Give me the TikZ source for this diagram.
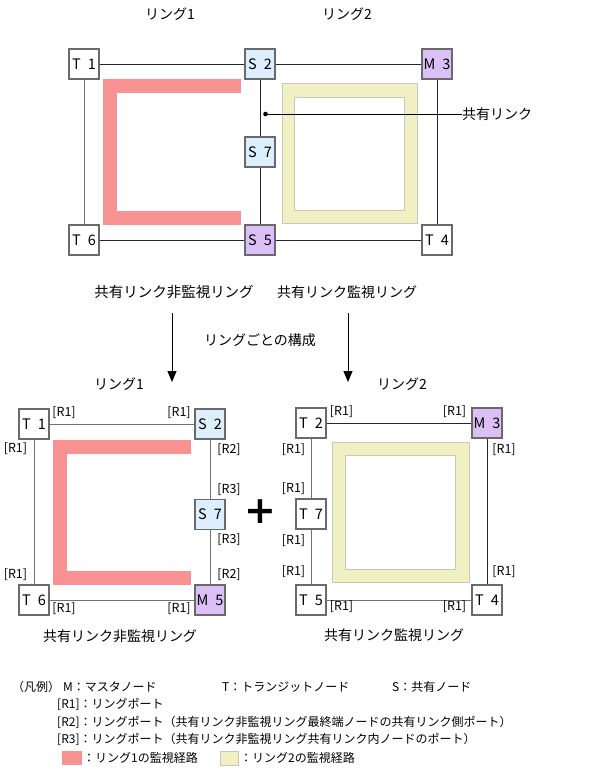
\documentclass[tikz,border=0pt]{standalone}
\usepackage{fontspec}
\setmainfont{Noto Sans CJK JP}
\newfontfamily\plusfont{DejaVu Sans}
\usetikzlibrary{arrows.meta}
\definecolor{pathred}{HTML}{F89292}
\definecolor{pathyel}{HTML}{F0F0C2}
\definecolor{yelbord}{HTML}{C8C8C0}
\definecolor{sblue}{HTML}{DDEEFF}
\definecolor{mpurp}{HTML}{DBC0F8}
\definecolor{boxline}{HTML}{6A6A6A}
\definecolor{linkgray}{HTML}{707070}
\newcommand{\bxt}[2]{#1\hspace{7pt}#2}
\tikzset{
  nodebox/.style={draw=boxline, line width=1.2pt, minimum size=30pt, inner sep=0pt, font=\fontsize{14.5}{14.5}\selectfont},
  tbox/.style={nodebox, fill=white},
  sbox/.style={nodebox, fill=sblue},
  mbox/.style={nodebox, fill=mpurp},
  link/.style={draw=linkgray, line width=1pt},
  darklink/.style={draw=black!85, line width=1pt},
  redpath/.style={draw=pathred, line width=14pt, line cap=butt, line join=miter},
  lbl/.style={font=\fontsize{14}{14}\selectfont, inner sep=0pt},
  port/.style={font=\fontsize{12.5}{12.5}\selectfont, inner sep=0pt},
  leg/.style={font=\fontsize{12}{12}\selectfont, inner sep=0pt, anchor=west},
  downarrow/.style={draw=black, line width=1pt, -{Triangle[width=9pt,length=11pt]}},
  yelouter/.style={fill=pathyel, draw=yelbord, line width=0.8pt},
  yelinner/.style={fill=white, draw=yelbord, line width=0.8pt}
}
\begin{document}
\begin{tikzpicture}[x=1pt,y=-1pt]
\useasboundingbox (0,0) rectangle (609,769);
\fill[white] (0,0) rectangle (609,769);

% ================= top diagram =================
\node[lbl] (lr1) at (170,14) {リング1};
\node[lbl] (lr2) at (347,14) {リング2};

% monitored paths
\draw[redpath] (241,86) -- (110,86) -- (110,218) -- (241,218);
\draw[yelouter] (282,83) rectangle (417,223);
\draw[yelinner] (294.5,97) rectangle (404,210);

\node[tbox] (aT1) at (84,64) {\bxt{T}{1}};
\node[sbox] (aS2) at (260,64) {\bxt{S}{2}};
\node[mbox] (aM3) at (437,64) {\bxt{M}{3}};
\node[sbox] (aS7) at (260,152) {\bxt{S}{7}};
\node[tbox] (aT6) at (84,240) {\bxt{T}{6}};
\node[mbox] (aS5) at (260,240) {\bxt{S}{5}};
\node[tbox] (aT4) at (437,240) {\bxt{T}{4}};

\draw[darklink] (aT1) -- (aS2);
\draw[darklink] (aS2) -- (aM3);
\draw[link] (aT1) -- (aT6);
\draw[darklink] (aT6) -- (aS5);
\draw[darklink] (aS5) -- (aT4);
\draw[darklink] (aM3) -- (aT4);
\draw[darklink] (aS2) -- (aS7);
\draw[darklink] (aS7) -- (aS5);

\coordinate (dotp) at (265.5,114);
\fill[black] (dotp) circle (2.3);
\node[lbl, anchor=west] (shlink) at (462,114) {共有リンク};
\draw[black, line width=1pt] (dotp) -- (shlink.west);

\node[lbl, font=\fontsize{14.5}{14.5}\selectfont] (ttl1) at (174,292) {共有リンク非監視リング};
\node[lbl] (ttl2) at (347,292) {共有リンク監視リング};

\coordinate (a1s) at (172,313);
\coordinate (a1e) at (172,382);
\coordinate (a2s) at (348,313);
\coordinate (a2e) at (348,382);
\draw[downarrow] (a1s) -- (a1e);
\draw[downarrow] (a2s) -- (a2e);
\node[lbl] (per) at (260,340) {リングごとの構成};

\node[lbl] (br1) at (119,384) {リング1};
\node[lbl] (br2) at (402,384) {リング2};

% ================= bottom left =================
\draw[redpath] (191,446.5) -- (59.5,446.5) -- (59.5,578) -- (191,578);

\node[tbox] (bT1) at (34,424) {\bxt{T}{1}};
\node[sbox] (bS2) at (210,424) {\bxt{S}{2}};
\node[sbox] (bS7) at (210,514.5) {\bxt{S}{7}};
\node[tbox] (bT6) at (34,600) {\bxt{T}{6}};
\node[mbox] (bM5) at (210,600) {\bxt{M}{5}};

\draw[link] (bT1) -- (bS2);
\draw[link] (bT1) -- (bT6);
\draw[link] (bT6) -- (bM5);
\draw[link] (bS2) -- (bS7);
\draw[link] (bS7) -- (bM5);

\node[port] (p1) at (64,412.5) {[R1]};
\node[port] (p2) at (179,412.5) {[R1]};
\node[port] (p3) at (15.5,448.5) {[R1]};
\node[port] (p4) at (229,450) {[R2]};
\node[port] (p5) at (229,489.5) {[R3]};
\node[port] (p6) at (229,540) {[R3]};
\node[port] (p7) at (229,575) {[R2]};
\node[port] (p8) at (15.5,575) {[R1]};
\node[port] (p9) at (64,608.5) {[R1]};
\node[port] (p10) at (179,608.5) {[R1]};

\node[lbl] (bt1) at (120,636.5) {共有リンク非監視リング};

\node[inner sep=0pt, font=\plusfont\bfseries\fontsize{38}{38}\selectfont] (plus) at (260,512) {+};

% ================= bottom right =================
\draw[yelouter] (332.5,442) rectangle (469,582);
\draw[yelinner] (345,455) rectangle (455.5,569.5);

\node[tbox] (cT2) at (311,423) {\bxt{T}{2}};
\node[mbox] (cM3) at (487,423) {\bxt{M}{3}};
\node[tbox] (cT7) at (311,514) {\bxt{T}{7}};
\node[tbox] (cT5) at (311,600) {\bxt{T}{5}};
\node[tbox] (cT4) at (487,600) {\bxt{T}{4}};

\draw[darklink] (cT2) -- (cM3);
\draw[link] (cT2) -- (cT7);
\draw[link] (cT7) -- (cT5);
\draw[link] (cT5) -- (cT4);
\draw[darklink] (cM3) -- (cT4);

\node[port] (q1) at (341.5,411.5) {[R1]};
\node[port] (q2) at (454.5,411.5) {[R1]};
\node[port] (q3) at (293.5,450) {[R1]};
\node[port] (q4) at (504,450) {[R1]};
\node[port] (q5) at (293.5,489) {[R1]};
\node[port] (q6) at (293.5,540.5) {[R1]};
\node[port] (q7) at (293.5,571.5) {[R1]};
\node[port] (q8) at (504,571.5) {[R1]};
\node[port] (q9) at (341.5,606.5) {[R1]};
\node[port] (q10) at (454.5,606.5) {[R1]};

\node[lbl] (bt2) at (394,635) {共有リンク監視リング};

% ================= legend =================
\node[leg] (g0) at (12,687) {（凡例）};
\node[leg] (g1) at (63,687) {M：マスタノード};
\node[leg] (g2) at (222,687) {T：トランジットノード};
\node[leg] (g3) at (392,687) {S：共有ノード};
\node[leg] (g4) at (57,704.5) {[R1]：リングポート};
\node[leg] (g5) at (57,722) {[R2]：リングポート（共有リンク非監視リング最終端ノードの共有リンク側ポート）};
\node[leg] (g6) at (57,739.5) {[R3]：リングポート（共有リンク非監視リング共有リンク内ノードのポート）};
\fill[pathred] (62,751) rectangle (82,765);
\node[leg] (g7) at (83,758) {：リング1の監視経路};
\draw[fill=pathyel, draw=yelbord, line width=0.8pt] (220.5,751) rectangle (238.5,765);
\node[leg] (g8) at (240,758) {：リング2の監視経路};
\end{tikzpicture}
\end{document}
